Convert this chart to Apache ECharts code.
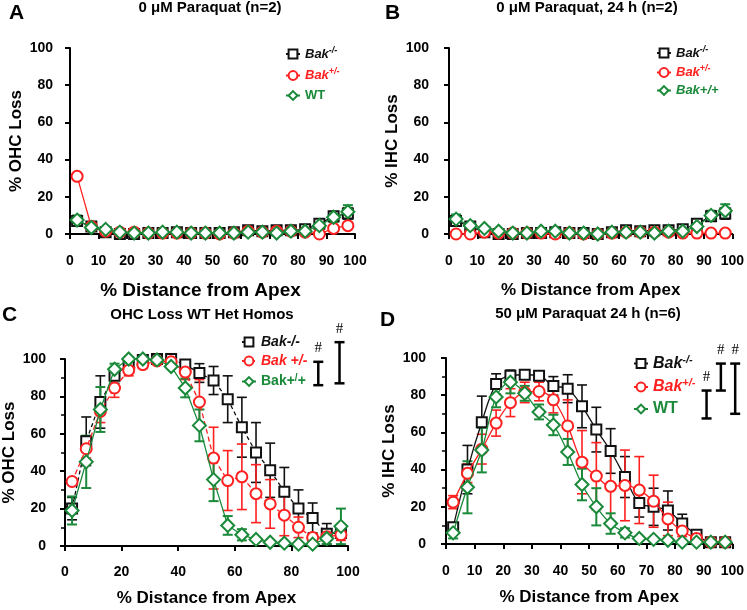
<!DOCTYPE html>
<html><head><meta charset="utf-8">
<script src="https://cdn.jsdelivr.net/npm/echarts@6/dist/echarts.min.js"></script>
<style>html,body{margin:0;padding:0;background:#fff}#c{width:747px;height:610px}</style>
</head><body><div id="c"></div>
<script>
// ---------- data ----------
const distance = [2.5,7.5,12.5,17.5,22.5,27.5,32.5,37.5,42.5,47.5,52.5,57.5,62.5,67.5,72.5,77.5,82.5,87.5,92.5,97.5];

// Panel A: 0 uM Paraquat, OHC loss
const aKO     = [7,4,1,0,0,0.5,0.5,1,0.5,0.5,0.5,1,2,1.5,2,2,2.5,5.5,9.5,11];
const aKOerr  = [1,0,0,0,0,0,0,0,0,0,0,0,0,0,0,0,0,1,2.5,3];
const aHet    = [31,4,1.5,1,1,0.5,0.5,0.5,0.5,0.5,0,0.5,1.5,1,1.5,1.5,1,0,3,4.5];
const aHetErr = [0,0,0,0,0,0,0,0,0,0,0,0,0,0,0,0,0,0,0,0];
const aWT     = [7.5,3.5,2.5,1,0.5,0.5,1,1,0.5,0.5,0.5,0.5,1,1,0.5,1.5,1.5,4.5,9,12];
const aWTerr  = [2.5,0,0,0,0,0,0,0,0,0,0,0,0,0,0,0,0,0,2.5,3.5];

// Panel B: 0 uM Paraquat 24 h, IHC loss
const bKO     = [7,4,1,0,0,0.5,0.5,1,0.5,0.5,0,1,2,1.5,2,2,2.5,5.5,9.5,11];
const bKOerr  = [1,0,0,0,0,0,0,0,0,0,0,0,0,0,0,0,0,1,2.5,3];
const bHet    = [0,0,1,0.5,0.5,0.5,0.5,0,0.5,0,0,0.5,1,1,1,1,0.5,0.5,0.5,0.5];
const bHetErr = [0,0,0,0,0,0,0,0,0,0,0,0,0,0,0,0,0,0,0,0];
const bWT     = [8,4.5,3,1.5,0.5,0.5,1.5,1.5,0.5,0.5,0,1,1,1,0.5,1.5,1.5,4,10,12.5];
const bWTerr  = [2.5,0,0,0,0,0,0,0,0,0,0,0,0,0,0,0,0,0,2.5,3.5];

// Panel C: OHC loss WT Het Homos
const cKO     = [20,56,77,91,97.5,99.5,100,100,97,92.5,88.5,78.5,63.5,50,40.5,29,20,15,6.5,7];
const cKOerr  = [6,13,14,4,2,1,0,0,2,5,7.5,12.5,16,16,14.5,13,10,8,5.5,3];
const cHet    = [34.5,52,72,84.5,94,97,99,98.5,93,77,47,35,37,28,22.5,16.5,10,4.5,5,6];
const cHetErr = [0,5,6,5,3,2,1,1,4,12,16.5,16,17.5,15.5,13,11,5.5,2,2,3];
const cWT     = [19,45,73,94.5,100,100,99.5,96,84.5,64.5,35.5,11,6,3.5,2,1.5,1,1,4,10.5];
const cWTerr  = [7.5,14,12,3,1,1,0,0,5,8.5,11.5,5,3,0,0,0,0,0,3,9.5];
const cSig    = [[89.5,86,98.5],[97,87,109]];   // [x, low, high]

// Panel D: 50 uM Paraquat 24 h, IHC loss
const dKO     = [9,40,65.5,86,90.5,91,90.5,85,83.5,74,61.5,50,36,22,20,18,11,5,1,1];
const dKOerr  = [2,13,14,5.5,3,1,1,5,7.5,11.5,12,12,11,7.5,10,10.5,5,2,1,1];
const dHet    = [22.5,38,51,65,76,81.5,82,77.5,63.5,44,36.5,31,31.5,29,23,13.5,7,3,1,1];
const dHetErr = [3.5,5,8,7,7.5,5.5,5,7,14,17,18,19,19,18,14,9,3,1,0,0];
const dWT     = [6,30.5,50.5,79,87,81,71,64,49.5,32,20,11,6,3,2.5,2,1,1,1,1];
const dWTerr  = [3,14,12,5.5,6,4,4,5.5,7,8.5,10,5.5,2.5,0,0,0,0,0,0,0];
const dSig    = [[91,67.5,82.5],[96,82.5,97],[101,70,97]];

const titles  = ['0 \u03bcM Paraquat (n=2)','0 \u03bcM Paraquat, 24 h (n=2)','OHC Loss WT Het Homos','50 \u03bcM Paraquat 24 h (n=6)'];
const letters = ['A','B','C','D'];
const yNames  = ['% OHC Loss','% IHC Loss','% OHC Loss','% IHC Loss'];
const xName   = '% Distance from Apex';

// ---------- styling ----------
const FF = '"Liberation Sans", Arial, sans-serif';
const BLACK = '#111111', RED = '#ff2020', GREEN = '#1a8a3a';

const grids = [
  {left:70, top:48, width:285, height:186, yOff:10, xOff:13, xfs:19, xgap:34, xshift:24},
  {left:449, top:48, width:285, height:186, yOff:13, xOff:13, xfs:17, xgap:35, xshift:0},
  {left:62, top:359, width:286, height:187, yOff:12, xOff:12, xfs:17, xgap:32, xshift:0},
  {left:446, top:358, width:287, height:186, yOff:13, xOff:13, xfs:17, xgap:32, xshift:0}
];

function pairs(ys){ return distance.map((x,i)=>[x,ys[i]]); }
function triples(ys,es){ return distance.map((x,i)=>[x,ys[i],es[i]]); }

function errRender(color, lw){
  return function(params, api){
    const x=api.value(0), y=api.value(1), e=api.value(2);
    if(!e) return null;
    const hi=api.coord([x,y+e]), lo=api.coord([x,Math.max(y-e,-1)]);
    const hw=5;
    const st={stroke:color,lineWidth:lw};
    return {type:'group',children:[
      {type:'line',shape:{x1:hi[0],y1:hi[1],x2:lo[0],y2:lo[1]},style:st},
      {type:'line',shape:{x1:hi[0]-hw,y1:hi[1],x2:hi[0]+hw,y2:hi[1]},style:st},
      {type:'line',shape:{x1:lo[0]-hw,y1:lo[1],x2:lo[0]+hw,y2:lo[1]},style:st}
    ]};
  };
}
function sigRender(params, api){
  const x=api.value(0), lo=api.value(1), hi=api.value(2);
  const p1=api.coord([x,hi]), p2=api.coord([x,lo]);
  const hw=5, st={stroke:'#000',lineWidth:2.5};
  return {type:'group',children:[
    {type:'line',shape:{x1:p1[0],y1:p1[1],x2:p2[0],y2:p2[1]},style:st},
    {type:'line',shape:{x1:p1[0]-hw,y1:p1[1],x2:p1[0]+hw,y2:p1[1]},style:st},
    {type:'line',shape:{x1:p2[0]-hw,y1:p2[1],x2:p2[0]+hw,y2:p2[1]},style:st},
    {type:'text',style:{text:'#',x:p1[0],y:p1[1]-6,textAlign:'center',textVerticalAlign:'bottom',
      fill:'#000',font:'15px "Liberation Serif", serif'}}
  ]};
}

const panels = [
  {ko:aKO,koE:aKOerr,het:aHet,hetE:aHetErr,wt:aWT,wtE:aWTerr,smooth:false,dash:[null,null,null]},
  {ko:bKO,koE:bKOerr,het:bHet,hetE:bHetErr,wt:bWT,wtE:bWTerr,smooth:false,dash:[null,null,null]},
  {ko:cKO,koE:cKOerr,het:cHet,hetE:cHetErr,wt:cWT,wtE:cWTerr,smooth:false,dash:[[4,3],[5,3],null]},
  {ko:dKO,koE:dKOerr,het:dHet,hetE:dHetErr,wt:dWT,wtE:dWTerr,smooth:0.35,dash:[null,null,null]}
];

const series=[];
const xAxis=[], yAxis=[], grid=[], title=[];
panels.forEach((p,k)=>{
  const g=grids[k];
  grid.push({left:g.left,top:g.top,width:g.width,height:g.height,containLabel:false});
  const xInt = k===2?20:10;
  xAxis.push({gridIndex:k,type:'value',min:0,max:100,interval:xInt,offset:g.xOff,
    name:xName,nameLocation:'middle',nameGap:g.xgap,
    nameTextStyle:{fontFamily:FF,fontWeight:'bold',fontSize:g.xfs,color:'#000',padding:[0,g.xshift,0,0]},
    axisLine:{lineStyle:{color:'#000',width:2}},axisTick:{length:5,lineStyle:{color:'#000',width:2}},
    axisLabel:{fontFamily:FF,fontWeight:'bold',fontSize:14,color:'#000',margin:7},
    splitLine:{show:false}});
  const minor = (k>=2);
  yAxis.push({gridIndex:k,type:'value',min:0,max:100,interval:20,offset:g.yOff,
    name:yNames[k],nameLocation:'middle',nameGap:35,nameRotate:90,
    nameTextStyle:{fontFamily:FF,fontWeight:'bold',fontSize:17,color:'#000'},
    axisLine:{show:true,lineStyle:{color:'#000',width:2}},axisTick:{show:true,length:5,lineStyle:{color:'#000',width:2}},
    minorTick:{show:minor,splitNumber:2,length:4,lineStyle:{color:'#000',width:1.5}},
    axisLabel:{fontFamily:FF,fontWeight:'bold',fontSize:14,color:'#000',margin:7},
    splitLine:{show:false}});
  const defs=[
    {id:'ko',d:p.ko,e:p.koE,c:BLACK,sym:'emptyRect',sz:10},
    {id:'het',d:p.het,e:p.hetE,c:RED,sym:'emptyCircle',sz:11},
    {id:'wt',d:p.wt,e:p.wtE,c:GREEN,sym:'emptyDiamond',sz:13}
  ];
  defs.forEach((s,j)=>{
    series.push({type:'custom',name:letters[k]+'_'+s.id+'_err',xAxisIndex:k,yAxisIndex:k,
      data:triples(s.d,s.e),renderItem:errRender(s.c, s.id==='wt'?2:1.6),clip:false,z:2+j,silent:true});
    series.push({type:'line',name:letters[k]+'_'+s.id,xAxisIndex:k,yAxisIndex:k,data:pairs(s.d),
      symbol:s.sym,symbolSize:s.sz,smooth:p.smooth,
      lineStyle:{color:s.c,width:1.3,type:p.dash[j]||'solid'},
      itemStyle:{color:s.c,borderColor:s.c,borderWidth:1.5},z:5+j,clip:false});
  });
});
series.push({type:'custom',name:'sigC',xAxisIndex:2,yAxisIndex:2,data:cSig,renderItem:sigRender,clip:false,z:10});
series.push({type:'custom',name:'sigD',xAxisIndex:3,yAxisIndex:3,data:dSig,renderItem:sigRender,clip:false,z:10});

// titles
const tpos=[[210,0],[587,0],[202,307],[588,306]];
const lpos=[[9,3],[385,3],[2,305],[380,310]];
titles.forEach((t,k)=>{
  title.push({text:t,left:tpos[k][0],top:tpos[k][1],textAlign:'center',padding:0,
    textStyle:{fontFamily:FF,fontWeight:'bold',fontSize:15,color:'#000'}});
  title.push({text:letters[k],left:lpos[k][0],top:lpos[k][1],padding:0,
    textStyle:{fontFamily:FF,fontWeight:'bold',fontSize:21,color:'#000'}});
});

// legends
function richSet(fs){
  const sup=Math.round(fs*0.7);
  const lh=fs+3;
  const mk=(c,it)=>({color:c,fontStyle:it?'italic':'normal',fontWeight:'bold',fontSize:fs,fontFamily:FF,lineHeight:lh});
  const ms=(c,it)=>({color:c,fontStyle:it?'italic':'normal',fontWeight:'bold',fontSize:sup,fontFamily:FF,verticalAlign:'top',lineHeight:sup+1});
  return {kb:mk(BLACK,true),sb:ms(BLACK,true),kr:mk(RED,true),sr:ms(RED,true),
          kg:mk(GREEN,true),sg:ms(GREEN,true),ng:mk(GREEN,false),sng:ms(GREEN,false)};
}
const legendText = {
  A_ko:'{kb|Bak}{sb|-/-}', A_het:'{kr|Bak}{sr|+/-}', A_wt:'{ng|WT}',
  B_ko:'{kb|Bak}{sb|-/-}', B_het:'{kr|Bak}{sr|+/-}', B_wt:'{kg|Bak+/+}',
  C_ko:'{kb|Bak-/-}', C_het:'{kr|Bak +/-}', C_wt:'{ng|Bak+}{sng|/}{ng|+}',
  D_ko:'{kb|Bak}{sb|-/-}', D_het:'{kr|Bak}{sr|+/-}', D_wt:'{ng|WT}'
};
const legPos=[
  {left:285,top:46,gap:7,fs:13},
  {left:656,top:45,gap:5,fs:13},
  {left:241,top:335,gap:5,fs:14},
  {left:633,top:354,gap:6,fs:16}
];
const legend = letters.map((L,k)=>({
  orient:'vertical',left:legPos[k].left,top:legPos[k].top,itemGap:legPos[k].gap,
  itemWidth:14,itemHeight:11,padding:0,selectedMode:false,
  data:[L+'_ko',L+'_het',L+'_wt'],
  formatter:n=>legendText[n],
  textStyle:{rich:richSet(legPos[k].fs)}
}));

const chart = echarts.init(document.getElementById('c'),null,{renderer:'canvas'});
chart.setOption({animation:false,backgroundColor:'#fff',title,grid,xAxis,yAxis,legend,series});
</script></body></html>
